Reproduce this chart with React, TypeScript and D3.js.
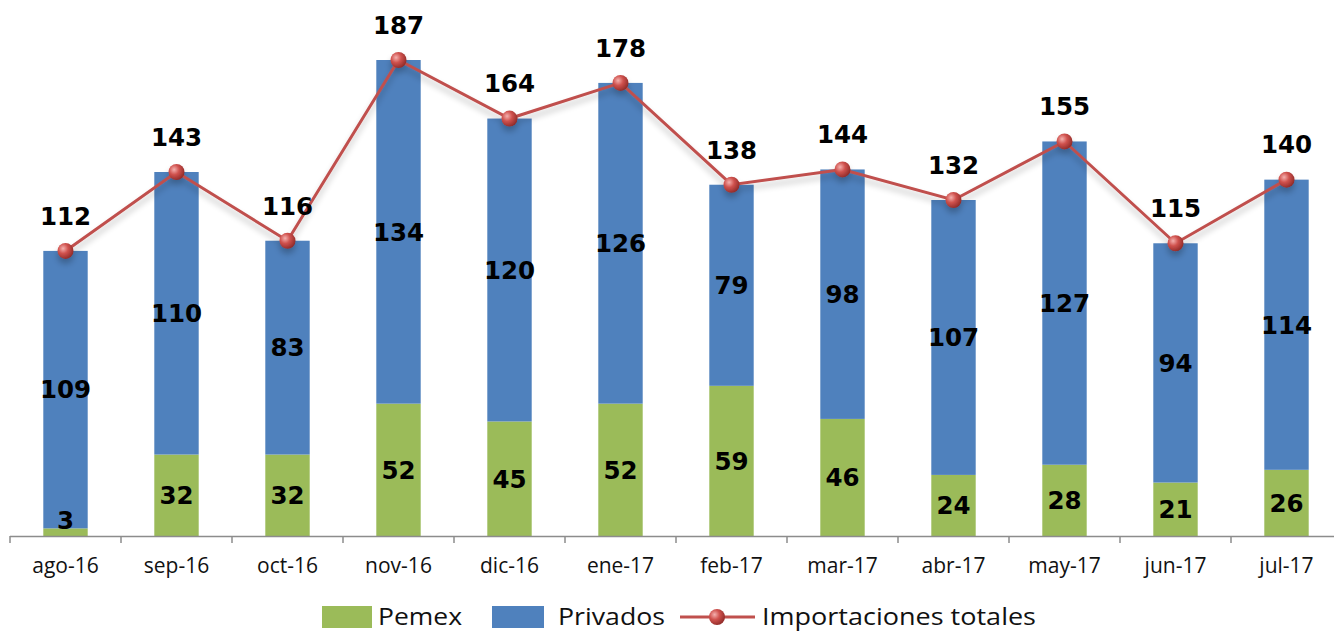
import React from "react";
import * as d3 from "d3";

const categories = ["ago-16", "sep-16", "oct-16", "nov-16", "dic-16", "ene-17", "feb-17", "mar-17", "abr-17", "may-17", "jun-17", "jul-17"];
const pemex = [3, 32, 32, 52, 45, 52, 59, 46, 24, 28, 21, 26];
const privados = [109, 110, 83, 134, 120, 126, 79, 98, 107, 127, 94, 114];
const totales = [112, 143, 116, 187, 164, 178, 138, 144, 132, 155, 115, 140];

const W = 1334;
const H = 633;
const baseY = 536;

const App = () => {
  const x = d3.scaleBand().domain(categories).range([10, 1342]).paddingInner(0.6).paddingOuter(0.3);
  const y = d3.scaleLinear().domain([0, 187]).range([baseY, 60]);
  const step = x.step();
  const bw = x.bandwidth();
  const cx = (c) => (x(c) as number) + bw / 2;

  const linePath = d3
    .line<number>()
    .x((d, i) => cx(categories[i]))
    .y((d) => y(d))(totales);

  const labelFont = "'DejaVu Sans', Verdana, sans-serif";

  return (
    <svg width={W} height={H} style={{ position: "absolute", left: 0, top: 0 }}>
      <defs>
        <radialGradient id="ball" cx="35%" cy="35%" r="70%">
          <stop offset="0%" stopColor="#f4b0ae" />
          <stop offset="45%" stopColor="#d0524e" />
          <stop offset="100%" stopColor="#8f2a28" />
        </radialGradient>
        <filter id="shadow" x="-10%" y="-10%" width="120%" height="130%">
          <feGaussianBlur in="SourceAlpha" stdDeviation="3" />
          <feOffset dx="0" dy="5" result="b" />
          <feComponentTransfer>
            <feFuncA type="linear" slope="0.25" />
          </feComponentTransfer>
          <feMerge>
            <feMergeNode />
            <feMergeNode in="SourceGraphic" />
          </feMerge>
        </filter>
      </defs>

      {categories.map((c, i) => (
        <g key={c}>
          <rect x={x(c)} y={y(pemex[i])} width={bw} height={baseY - y(pemex[i])} fill="#9BBB59" />
          <rect x={x(c)} y={y(totales[i])} width={bw} height={y(pemex[i]) - y(totales[i])} fill="#4F81BD" />
        </g>
      ))}

      {/* axis */}
      <line x1={10} x2={1342} y1={baseY + 0.5} y2={baseY + 0.5} stroke="#8c8c8c" strokeWidth={1.5} />
      {d3.range(categories.length + 1).map((i) => (
        <line key={i} x1={10 + i * step} x2={10 + i * step} y1={baseY} y2={baseY + 7} stroke="#8c8c8c" strokeWidth={1.5} />
      ))}
      {categories.map((c) => (
        <text key={c} x={cx(c)} y={573} textAnchor="middle" fontFamily="'Open Sans', sans-serif" fontSize={21} fill="#111">
          {c}
        </text>
      ))}

      {/* segment labels */}
      {categories.map((c, i) => {
        const pm = Math.min((y(0) + y(pemex[i])) / 2, baseY - 16);
        const pv = (y(pemex[i]) + y(totales[i])) / 2;
        return (
          <g key={c} fontFamily={labelFont} fontWeight="bold" fontSize={24.5} textAnchor="middle" fill="#000">
            <text x={cx(c)} y={pm} dy="0.36em">{pemex[i]}</text>
            <text x={cx(c)} y={pv} dy="0.36em">{privados[i]}</text>
          </g>
        );
      })}

      {/* total line */}
      <g filter="url(#shadow)">
        <path d={linePath} fill="none" stroke="#C0504D" strokeWidth={3} />
        {totales.map((t, i) => (
          <circle key={i} cx={cx(categories[i])} cy={y(t)} r={8} fill="url(#ball)" />
        ))}
      </g>
      {totales.map((t, i) => (
        <text key={i} x={cx(categories[i])} y={y(t) - 35} dy="0.36em" textAnchor="middle" fontFamily={labelFont} fontWeight="bold" fontSize={24.5}>
          {t}
        </text>
      ))}

      {/* legend */}
      <g fontFamily="'Open Sans', sans-serif" fontSize={24} fill="#111">
        <rect x={322} y={606} width={50} height={22} fill="#9BBB59" />
        <text x={378} y={625} textLength={84} lengthAdjust="spacingAndGlyphs">Pemex</text>
        <rect x={492} y={606} width={52} height={22} fill="#4F81BD" />
        <text x={558} y={625} textLength={107} lengthAdjust="spacingAndGlyphs">Privados</text>
        <line x1={680} x2={755} y1={617} y2={617} stroke="#C0504D" strokeWidth={3} />
        <circle cx={717} cy={617} r={8} fill="url(#ball)" />
        <text x={762} y={625} textLength={274} lengthAdjust="spacingAndGlyphs">Importaciones totales</text>
      </g>
    </svg>
  );
};

export default App;
